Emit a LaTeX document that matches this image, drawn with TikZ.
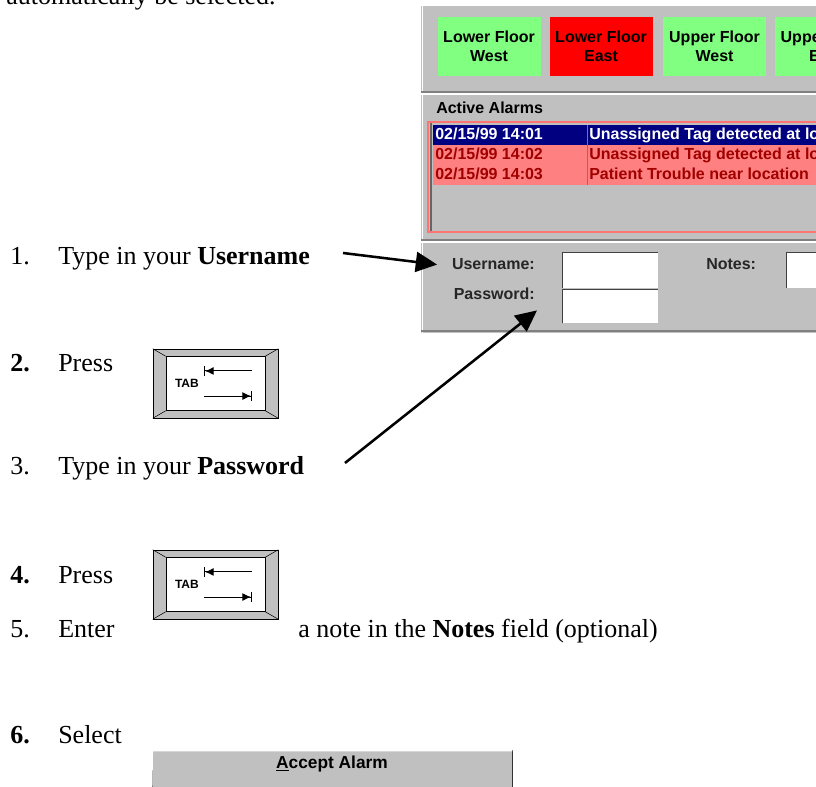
\documentclass[tikz,border=0pt]{standalone}
\usepackage{fontspec}
\setmainfont{Liberation Serif}
\setsansfont{Liberation Sans}
\usetikzlibrary{arrows.meta,positioning}

\definecolor{wingray}{HTML}{C0C0C0}
\definecolor{winshadow}{HTML}{808080}
\definecolor{floorgreen}{HTML}{80FF80}
\definecolor{floorred}{HTML}{FF0000}
\definecolor{alarmpink}{HTML}{FF8080}
\definecolor{alarmblue}{HTML}{000080}
\definecolor{alarmtext}{HTML}{A00000}

\begin{document}
\begin{tikzpicture}[x=0.75pt,y=-0.75pt]
    \tikzstyle{stepline}=[anchor=base west,inner sep=0pt,font=\fontsize{19.5}{23}\selectfont]
    \tikzstyle{pointer}=[-{Triangle[length=16pt,width=15pt]},line width=1.9pt]
    \tikzstyle{keybox}=[draw,fill=wingray,minimum width=93.75pt,minimum height=51.75pt,inner sep=0pt]
    \tikzstyle{keyface}=[draw,fill=white,minimum width=74.25pt,minimum height=40.5pt,inner sep=0pt]
    \tikzstyle{keyarrow}=[-{Latex[length=6.5pt,width=6pt]Bar[width=7.5pt]},line width=0.75pt]
    \tikzstyle{floorbutton}=[draw=black!25,minimum width=78pt,minimum height=45pt,inner sep=0pt,align=center,
        font=\sffamily\bfseries\fontsize{12}{14.25}\selectfont]
    \tikzstyle{uilabel}=[anchor=base west,inner sep=0pt,text=black!85,font=\sffamily\bfseries\fontsize{12}{14}\selectfont]
    \tikzstyle{field}=[fill=white,minimum width=71.25pt,inner sep=0pt]

    \useasboundingbox (0,0) rectangle (816,787);
    \clip (0,0) rectangle (816,787);

    % Draw the alarm screen
    \fill[wingray] (421,6) rectangle (816,333);
    \draw[white,line width=1pt] (422.5,6) -- (422.5,333);
    \foreach \y in {92,240}
    {
        \draw[winshadow,line width=1pt] (421,\y) -- (816,\y);
        \draw[white,line width=1pt] (421,\y+2) -- (816,\y+2);
    }
    \draw[winshadow,line width=1pt] (421,331) -- (816,331);

    % Floor buttons
    \foreach \name / \x / \lvl / \wing / \col in {lw/489/Lower/West/floorgreen, le/601/Lower/East/floorred,
        uw/714.5/Upper/West/floorgreen, ue/826/Upper/East/floorgreen}
        \node[floorbutton,fill=\col] (F-\name) at (\x,46) {\lvl{} Floor\\\wing};

    % Active alarm list
    \node[uilabel,text=black] (alarms) at (436,114) {Active Alarms};
    \foreach \name / \y / \bg / \fg / \stamp / \what in {1/125/alarmblue/white/14:01/Unassigned Tag detected at location,
        2/145/alarmpink/alarmtext/14:02/Unassigned Tag detected at location,
        3/165/alarmpink/alarmtext/14:03/Patient Trouble near location}
    {
        \fill[\bg] (433,\y) rectangle (830,\y+20);
        \node[uilabel,text=\fg] (T-\name) at (435,\y+15) {02/15/99 \stamp};
        \node[uilabel,text=\fg] (M-\name) at (589,\y+15) {\what};
    }
    \draw[red!75,line width=0.75pt] (587,125) -- (587,185);
    \draw[red!55,line width=1pt] (428,122) rectangle (830,232);
    \draw[black!60,line width=1.5pt] (431,123) -- (431,231);

    % Login fields
    \node[uilabel,anchor=base east] (ulabel) at (535,270) {Username:};
    \node[uilabel,anchor=base east] (pwlabel) at (535,300) {Password:};
    \node[uilabel] (nlabel) at (706,270) {Notes:};
    \foreach \name / \x / \y / \h in {ufield/610.5/270.5/26.25pt, pwfield/610.5/306.5/24.75pt, nfield/834.5/270.5/26.25pt}
    {
        \node[field,minimum height=\h] (\name) at (\x,\y) {};
        \draw[black!75,line width=1pt] (\name.south west) -- (\name.north west) -- (\name.north east);
    }

    % The steps
    \node[stepline] (intro) at (6,5) {automatically be selected.};
    \foreach \name / \lbl / \y in {1/1./265, 2/\textbf{2.}/372, 3/3./474, 4/\textbf{4.}/583, 5/5./637, 6/\textbf{6.}/743}
        \node[stepline] (N-\name) at (10,\y) {\lbl};
    \node[stepline] (S-1) at (58,265) {Type in your \textbf{Username}};
    \node[stepline] (S-2) at (58,372) {Press};
    \node[stepline] (S-3) at (58,474) {Type in your \textbf{Password}};
    \node[stepline] (S-4) at (58,583) {Press};
    \node[stepline] (S-5) at (58,637) {Enter};
    \node[stepline] (S-5b) at (298,637) {a note in the \textbf{Notes} field (optional)};
    \node[stepline] (S-6) at (58,743) {Select};

    % Draw the two TAB keys
    \foreach \name / \y in {2/383.5, 4/584.5}
    {
        \node[keybox] (key-\name) at (215.5,\y) {};
        \node[keyface] (face-\name) at (215.5,\y) {};
        \foreach \corner in {north west,north east,south west,south east}
            \draw (key-\name.\corner) -- (face-\name.\corner);
        \node[inner sep=0pt,font=\sffamily\bfseries\fontsize{9}{10}\selectfont,right=16.5pt of key-\name.west] (tab-\name) {TAB};
        \draw[keyarrow] ([shift={(27.4pt,9.4pt)}]key-\name.center) -- ([shift={(-8.6pt,9.4pt)}]key-\name.center);
        \draw[keyarrow] ([shift={(-8.6pt,-9.4pt)}]key-\name.center) -- ([shift={(27.4pt,-9.4pt)}]key-\name.center);
    }

    % The accept button
    \node[draw=black!80,fill=wingray,minimum width=270pt,minimum height=30pt,anchor=north,inner sep=0pt,
        text height=7pt,text depth=10pt,font=\sffamily\bfseries\fontsize{13}{15}\selectfont] (accept) at (332,750) {\underline{A}ccept Alarm};
    \draw[white,line width=1pt] ([yshift=-0.5pt]accept.south west) -- ([shift={(0.5pt,-0.5pt)}]accept.north west) -- ([yshift=-0.5pt]accept.north east);

    % Point from the steps to the login fields
    \coordinate (P-1) at (343,253);
    \coordinate (P-2) at (345,463);
    \draw[pointer] (P-1) -- ([xshift=-11pt]ulabel.west);
    \draw[pointer] (P-2) -- ([shift={(1.5pt,-7.5pt)}]pwlabel.south east);
\end{tikzpicture}
\end{document}
